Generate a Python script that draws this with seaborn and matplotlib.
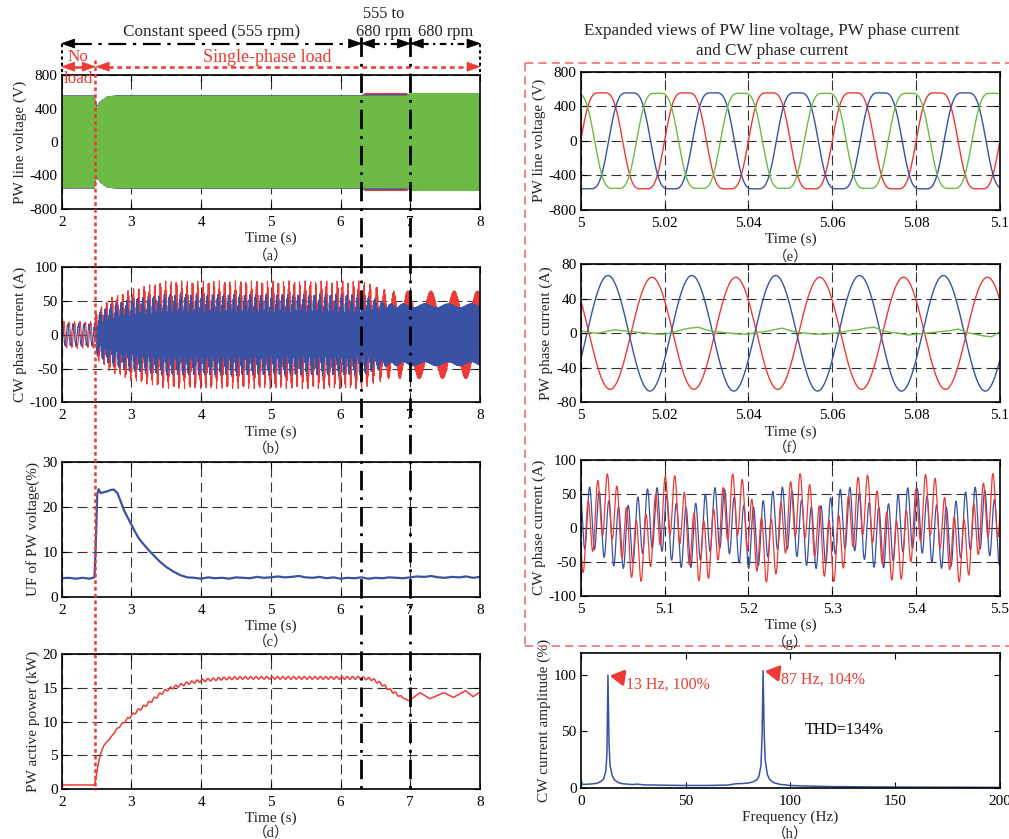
import numpy as np
import matplotlib
matplotlib.use("Agg")
import matplotlib.pyplot as plt
from matplotlib.lines import Line2D
from matplotlib.patches import Polygon
import seaborn as sns

W, H, DPI = 1009, 839, 100

RED = "#ee3a36"
BLUE = "#3a52a4"
GREEN = "#6dbb46"
BOX_RED = "#f07272"

# ---------------- data ----------------
event_load = 2.48           # single-phase load switched in (s)
event_speed = [6.3, 7.0]    # start / end of the speed ramp (s)

# PW line voltage: peak envelope (V) of the three line voltages
pwv_t     = [2.0, 2.47, 2.50, 2.55, 2.65, 2.80, 6.30, 6.35, 6.95, 7.00, 8.00]
pwv_red   = [550, 550, 410, 470, 535, 555, 555, 580, 580, 555, 555]
pwv_blue  = [552, 552, 420, 480, 540, 555, 555, 565, 565, 550, 550]
pwv_green = [545, 545, 410, 475, 540, 550, 550, 550, 550, 580, 580]
pwv_phase_deg = [0, -120, 120]
pwv_third = 0.12            # flat-top (3rd harmonic) ratio
grid_hz = 50

# CW phase current: slip-frequency and high-frequency components
cw_f_t    = [2.0, 6.3, 7.0, 8.0]
cw_f_low  = [13, 13, 3, 3]
cw_f_high = [87, 87, 97, 97]
cw_env_t     = [2.0, 2.47, 2.50, 2.70, 3.00, 3.50, 6.30, 6.70, 8.00]
cw_red_low   = [18, 18, 18, 25, 30, 35, 35, 25, 25]
cw_red_high  = [2, 2, 18, 30, 38, 45, 45, 40, 40]
cw_blue_low  = [15, 15, 10, 12, 14, 15, 15, 3, 3]
cw_blue_high = [2, 2, 20, 33, 40, 45, 45, 43, 43]
cw_red_phase  = [-0.88, 3.04]   # rad (low, high)
cw_blue_phase = [0.75, 2.04]

# Unbalance factor of PW voltage (%)
uf_t = [2.0, 2.1, 2.2, 2.3, 2.4, 2.47, 2.49, 2.51, 2.53, 2.56, 2.6, 2.65, 2.7,
        2.75, 2.8, 2.85, 2.9, 2.95, 3.0, 3.05, 3.1, 3.15, 3.2, 3.25, 3.3, 3.4,
        3.5, 3.6, 3.7, 3.8]
uf_v = [4.1, 4.2, 4.0, 4.2, 4.0, 4.3, 12.0, 22.8, 23.9, 23.0, 23.2, 23.4, 23.7,
        23.8, 23.0, 21.0, 19.0, 17.5, 16.0, 14.5, 13.1, 12.1, 11.2, 10.3, 9.5, 7.9,
        6.6, 5.6, 4.8, 4.3]
uf_steady = [4.2, 4.0, 4.3, 4.1, 4.2, 4.0, 4.3, 4.2, 4.1, 4.4,
             4.2, 4.3, 4.5, 4.3, 4.4, 4.6, 4.3, 4.2, 4.4, 4.1,
             4.3, 4.0, 4.2, 4.1, 4.3, 4.0, 4.2, 4.1, 4.3, 4.2,
             4.1, 4.3, 4.5, 4.4, 4.6, 4.3, 4.2, 4.4, 4.3, 4.5,
             4.2, 4.4]          # 3.9 s .. 8.0 s every 0.1 s

# PW active power (kW)
pw_t = [2.0, 2.47, 2.49, 2.52, 2.55, 2.6, 2.65, 2.7, 2.8, 2.9, 3.0, 3.1, 3.2,
        3.3, 3.4, 3.5, 3.6, 3.8, 4.0, 4.3, 4.6, 5.0, 5.5, 6.0, 6.3, 6.45, 6.57,
        6.71, 6.85, 6.98, 7.14, 7.28, 7.48, 7.62, 7.79, 7.9, 8.0]
pw_p = [0.6, 0.6, 1.5, 3.5, 5.0, 6.4, 7.0, 7.6, 9.0, 10.0, 10.9, 11.7, 12.4,
        13.2, 14.0, 14.7, 15.1, 15.7, 16.1, 16.4, 16.5, 16.5, 16.5, 16.5, 16.5,
        16.3, 15.7, 14.7, 13.8, 13.1, 14.3, 13.4, 14.3, 13.6, 14.6, 13.7, 14.4]
pw_ripple_t = [2.0, 2.55, 3.0, 6.8, 6.95, 8.0]
pw_ripple   = [0.0, 0.0, 0.2, 0.2, 0.0, 0.0]
pw_ripple_hz = 13

# PW phase current, 5.0-5.1 s
pwi_amp = [65, 67]               # red, blue (A)
pwi_phase_deg = [-216, -27]
pwi_green = [3, 1, 0, 2, 4, 3, 2, 1, 0, -1, -1, 1, 4, 6, 7, 4, 2, 1, 0, -1,
             -1, 1, 2, 4, 6, 3, 1, 0, -1, -1, 0, 1, 3, 4, 6, 7, 3, 1, 0, -2,
             -1, 0, 1, 2, 3, 5, 1, -1, -3, -4, 2]

# CW current spectrum
spec_f = [0, 0.5, 1, 2, 4, 6, 8, 10, 11, 12, 12.5, 13, 13.5, 14, 15, 16, 18, 20,
          25, 27, 30, 40, 50, 60, 70, 74, 78, 80, 82, 84, 85, 86, 86.5, 87, 87.5,
          88, 89, 90, 92, 95, 100, 105, 110, 120, 140, 160, 180, 200]
spec_a = [8, 4, 3, 3, 3.2, 3.5, 4, 6, 8, 15, 30, 100, 40, 20, 11, 7, 4.5, 3.5,
          2.8, 3.2, 2.5, 2.2, 2.0, 2.0, 2.3, 3.5, 3.8, 4.2, 5, 7, 10, 20, 45, 104,
          50, 25, 12, 7.5, 4.5, 3, 2, 1.6, 1.4, 1.0, 0.7, 0.5, 0.4, 0.3]
peak_labels = [(13, 100, "13 Hz, 100%"), (87, 104, "87 Hz, 104%")]
thd_text = "THD=134%"

# ---------------- signals ----------------
def flat_sine(x, h):
    ref = np.linspace(0, 2 * np.pi, 2001)
    norm = np.max(np.sin(ref) + h * np.sin(3 * ref))
    return (np.sin(x) + h * np.sin(3 * x)) / norm


def line_voltages(t):
    out = []
    for env, ph in zip([pwv_red, pwv_blue, pwv_green], pwv_phase_deg):
        amp = np.interp(t, pwv_t, env)
        out.append(amp * flat_sine(2 * np.pi * grid_hz * t + np.deg2rad(ph), pwv_third))
    return out


def cw_currents(t):
    dt = t[1] - t[0]
    t_full = np.arange(2.0, t[-1] + dt / 2, dt)
    ph_lo = 2 * np.pi * np.concatenate([[0], np.cumsum(np.interp(t_full, cw_f_t, cw_f_low))[:-1] * dt])
    ph_hi = 2 * np.pi * np.concatenate([[0], np.cumsum(np.interp(t_full, cw_f_t, cw_f_high))[:-1] * dt])
    lo = np.interp(t, t_full, ph_lo)
    hi = np.interp(t, t_full, ph_hi)
    red = (np.interp(t, cw_env_t, cw_red_low) * np.sin(lo + cw_red_phase[0])
           + np.interp(t, cw_env_t, cw_red_high) * np.sin(hi + cw_red_phase[1]))
    blue = (np.interp(t, cw_env_t, cw_blue_low) * np.sin(lo + cw_blue_phase[0])
            + np.interp(t, cw_env_t, cw_blue_high) * np.sin(hi + cw_blue_phase[1]))
    return red, blue


# ---------------- figure ----------------
sns.set_theme(style="ticks")
plt.rcParams.update({
    "font.family": ["Liberation Serif", "Noto Sans CJK SC", "DejaVu Sans"],
    "axes.unicode_minus": False,
    "font.size": 11,
    "axes.labelsize": 11,
    "xtick.labelsize": 11,
    "ytick.labelsize": 11,
    "axes.axisbelow": True,
})

fig = plt.figure(figsize=(W / DPI, H / DPI), dpi=DPI)
fig.patch.set_facecolor("white")


def rect(l, t, r, b):
    return [l / W, 1 - b / H, (r - l) / W, (b - t) / H]


def fpt(x, y):
    return (x / W, 1 - y / H)


def trace(ax, x, y, color, lw=0.9):
    sns.lineplot(x=x, y=y, ax=ax, color=color, linewidth=lw,
                 estimator=None, sort=False, legend=False)


def style(ax, xlim, xticks, ylim, yticks, ylabel, xlabel="Time (s)",
          grid=True, xticklabels=None):
    ax.set_xlim(xlim)
    ax.set_ylim(ylim)
    ax.set_xticks(xticks)
    if xticklabels is not None:
        ax.set_xticklabels(xticklabels)
    ax.set_yticks(yticks)
    ax.tick_params(direction="in", top=True, right=True, length=4, width=0.8,
                   colors="black")
    ax.tick_params(axis="x", pad=5)
    ax.tick_params(axis="y", pad=3)
    if grid:
        ax.grid(True, color="#333333", linestyle=(0, (9, 4.5)), linewidth=0.8)
    ax.set_xlabel(xlabel, labelpad=2)
    ax.set_ylabel(ylabel, labelpad=2)
    for s in ax.spines.values():
        s.set_linewidth(1.2)
        s.set_color("black")
    ax.set_facecolor("white")


ax_a = fig.add_axes(rect(61.7, 75, 480, 209))
ax_b = fig.add_axes(rect(61.7, 267.3, 480, 402.3))
ax_c = fig.add_axes(rect(61.7, 461.7, 480, 596.7))
ax_d = fig.add_axes(rect(61.7, 654.3, 480, 789))
ax_e = fig.add_axes(rect(580.7, 71.7, 1000, 210))
ax_f = fig.add_axes(rect(580.7, 264.3, 1000, 402.3))
ax_g = fig.add_axes(rect(580.7, 460, 1000, 595.7))
ax_h = fig.add_axes(rect(580.7, 652.7, 1000, 787.7))

time_ticks = [2, 3, 4, 5, 6, 7, 8]

# (a) PW line voltage, full run
t_a = np.arange(2.0, 8.0, 1 / 3000)
va = line_voltages(t_a)
for v, c in zip(va, [RED, BLUE, GREEN]):
    trace(ax_a, t_a, v, c, 0.8)
style(ax_a, (2, 8), time_ticks, (-800, 800), [-800, -400, 0, 400, 800],
      "PW line voltage (V)")

# (b) CW phase current, full run
t_b = np.arange(2.0, 8.0, 1 / 3000)
rb, bb = cw_currents(t_b)
trace(ax_b, t_b, rb, RED, 0.8)
trace(ax_b, t_b, bb, BLUE, 0.8)
style(ax_b, (2, 8), time_ticks, (-100, 100), [-100, -50, 0, 50, 100],
      "CW phase current (A)")

# (c) unbalance factor
uf_all_t = list(uf_t) + list(np.round(3.9 + 0.1 * np.arange(len(uf_steady)), 2))
uf_all_v = list(uf_v) + list(uf_steady)
trace(ax_c, np.array(uf_all_t), np.array(uf_all_v), BLUE, 1.6)
style(ax_c, (2, 8), time_ticks, (0, 30), [0, 10, 20, 30],
      "UF of PW voltage(%)")

# (d) PW active power
t_d = np.arange(2.0, 8.0, 1 / 1000)
p_d = np.interp(t_d, pw_t, pw_p) + np.interp(t_d, pw_ripple_t, pw_ripple) * \
    np.sin(2 * np.pi * pw_ripple_hz * t_d)
trace(ax_d, t_d, p_d, RED, 1.1)
style(ax_d, (2, 8), time_ticks, (0, 20), [0, 5, 10, 15, 20],
      "PW active power (kW)")

# (e) PW line voltage, expanded
t_e = np.arange(5.0, 5.1, 1 / 20000)
ve = line_voltages(t_e)
for v, c in zip(ve, [RED, BLUE, GREEN]):
    trace(ax_e, t_e, v, c, 1.0)
e_ticks = [5, 5.02, 5.04, 5.06, 5.08, 5.1]
e_labels = ["5", "5.02", "5.04", "5.06", "5.08", "5.1"]
style(ax_e, (5, 5.1), e_ticks, (-800, 800), [-800, -400, 0, 400, 800],
      "PW line voltage (V)", xticklabels=e_labels)

# (f) PW phase current, expanded
t_f = np.arange(5.0, 5.1, 1 / 20000)
for amp, ph, c in zip(pwi_amp, pwi_phase_deg, [RED, BLUE]):
    trace(ax_f, t_f, amp * np.sin(2 * np.pi * grid_hz * (t_f - 5.0) + np.deg2rad(ph)), c, 1.0)
trace(ax_f, np.linspace(5.0, 5.1, len(pwi_green)), np.array(pwi_green, float), GREEN, 1.0)
style(ax_f, (5, 5.1), e_ticks, (-80, 80), [-80, -40, 0, 40, 80],
      "PW phase current (A)", xticklabels=e_labels)

# (g) CW phase current, expanded
t_g = np.arange(5.0, 5.5, 1 / 10000)
rg, bg = cw_currents(t_g)
trace(ax_g, t_g, bg, BLUE, 0.9)
trace(ax_g, t_g, rg, RED, 0.9)
style(ax_g, (5, 5.5), [5, 5.1, 5.2, 5.3, 5.4, 5.5], (-100, 100), [-100, -50, 0, 50, 100],
      "CW phase current (A)", xticklabels=["5", "5.1", "5.2", "5.3", "5.4", "5.5"])

# (h) CW current spectrum
trace(ax_h, np.array(spec_f, float), np.array(spec_a, float), BLUE, 1.1)
style(ax_h, (0, 200), [0, 50, 100, 150, 200], (0, 120), [0, 50, 100],
      "CW current amplitude (%)", xlabel="Frequency (Hz)", grid=False)
for f0, a0, txt in peak_labels:
    ax_h.annotate(txt, xy=(f0 + 0.8, a0 - 0.5), xytext=(f0 + 8.5, a0 - 8),
                  color=RED, fontsize=11.5, va="center", ha="left",
                  arrowprops=dict(arrowstyle="-|>,head_length=0.7,head_width=0.4",
                                  color=RED, lw=2.2, shrinkA=0, shrinkB=0))
ax_h.text(107, 51, thd_text, fontsize=11.5, color="black", va="center", ha="left")

# panel letters
panel_axes = [ax_a, ax_b, ax_c, ax_d, ax_e, ax_f, ax_g, ax_h]
panel_y = [256, 449, 642, 833, 257, 448, 642, 834]
for letter, ax, y in zip("abcdefgh", panel_axes, panel_y):
    pos = ax.get_position()
    fig.text(pos.x0 + pos.width / 2, 1 - y / H, f"（{letter}）", ha="center",
             va="center", fontsize=10.5)

# ---------------- event markers across the left column ----------------
def xpix(t):
    return ax_d.transData.transform((t, 0))[0]


x_left = xpix(2.0)
x_right = xpix(8.0)
x_load = xpix(event_load)
x_s1, x_s2 = xpix(event_speed[0]), xpix(event_speed[1])


def fline(x0, y0, x1, y1, **kw):
    fig.add_artist(Line2D([x0 / W, x1 / W], [1 - y0 / H, 1 - y1 / H],
                          transform=fig.transFigure, **kw))


def head(x_tip, y, direction, color, length=13, half=4.5):
    xb = x_tip - direction * length
    pts = [fpt(x_tip, y), fpt(xb, y - half), fpt(xb, y + half)]
    fig.add_artist(Polygon(pts, closed=True, transform=fig.transFigure,
                           facecolor=color, edgecolor=color, lw=0.5, zorder=5))


def double_arrow(x0, x1, y, color, ls, lw=1.6):
    fline(x0 + 12, y, x1 - 12, y, color=color, linestyle=ls, linewidth=lw, zorder=5)
    head(x0, y, -1, color)
    head(x1, y, 1, color)


# black speed arrows
y1 = 43.5
double_arrow(x_left, x_s1, y1, "black", (0, (8, 3, 1.5, 3)))
double_arrow(x_s1, x_s2, y1, "black", (0, (3, 2, 1, 2)))
double_arrow(x_s2, x_right, y1, "black", (0, (3, 2, 1, 2)))
fline(x_left, y1, x_left, 75, color="black", linestyle=(0, (1.5, 1.5)), linewidth=1.5)
fline(x_right, y1, x_right, 75, color="black", linestyle=(0, (1.5, 1.5)), linewidth=1.5)
for xs in (x_s1, x_s2):
    fline(xs, 37, xs, 790, color="black", linestyle=(0, (7, 2.5, 1, 2.5)),
          linewidth=2.0, zorder=6)

fig.text((x_left + x_s1) / 2 / W, 1 - 32 / H, "Constant speed (555 rpm)",
         ha="center", va="center", fontsize=12.3)
fig.text((x_s1 + x_s2) / 2 / W - 0.002, 1 - 23 / H, "555 to\n680 rpm", ha="center",
         va="center", fontsize=11.8, linespacing=1.2)
fig.text((x_s2 + x_right) / 2 / W, 1 - 32 / H, "680 rpm", ha="center",
         va="center", fontsize=11.8)

# red load arrows
y2 = 66.7
double_arrow(x_left, x_load, y2, RED, "-", lw=1.8)
double_arrow(x_load + 1, x_right, y2, RED, (0, (2, 1.5)), lw=1.8)
fline(x_load, 60, x_load, 790, color=RED, linestyle=(0, (1.5, 1.2)), linewidth=1.8, zorder=6)
fig.text((x_left + x_load) / 2 / W, 1 - 57 / H, "No", ha="center", va="center",
         fontsize=12.3, color=RED)
fig.text((x_left + x_load) / 2 / W, 1 - 79 / H, "load", ha="center", va="center",
         fontsize=12.3, color=RED, zorder=7)
fig.text((x_load + x_right) / 2 / W - 0.02, 1 - 57 / H, "Single-phase load",
         ha="center", va="center", fontsize=13, color=RED)

# ---------------- right column frame and heading ----------------
fig.text(772 / W, 1 - 41 / H,
         "Expanded views of PW line voltage, PW phase current\nand CW phase current",
         ha="center", va="center", fontsize=12.3, linespacing=1.3)
box_ls = (0, (5, 3))
fline(525, 63, W, 63, color=BOX_RED, linestyle=box_ls, linewidth=1.2)
fline(525, 63, 525, 646, color=BOX_RED, linestyle=box_ls, linewidth=1.2)
fline(525, 646, W, 646, color=BOX_RED, linestyle=box_ls, linewidth=1.2)

fig.savefig("out.png", dpi=DPI)
